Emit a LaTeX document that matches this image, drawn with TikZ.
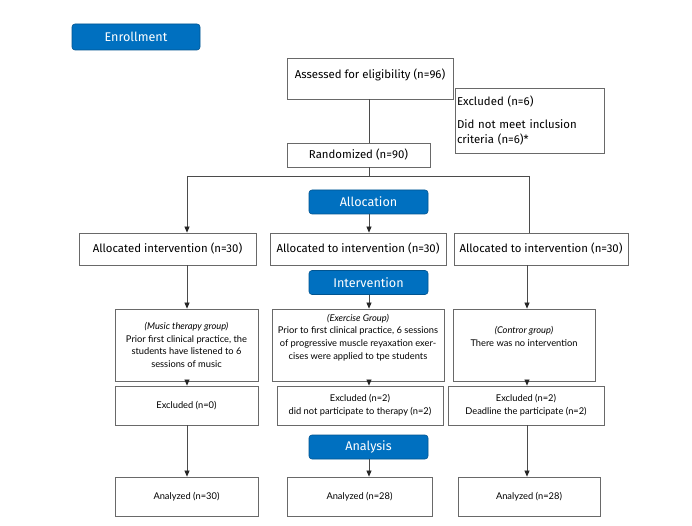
\documentclass[tikz,border=0pt]{standalone}
\usepackage{fontspec}
\setmainfont{Fira Sans}
\newfontfamily\lowf{Lato}
\usetikzlibrary{arrows.meta}
\definecolor{phaseblue}{RGB}{0,112,192}
\definecolor{boxgray}{RGB}{105,105,105}
\definecolor{linegray}{RGB}{75,75,75}
\begin{document}
\begin{tikzpicture}[x=1pt,y=-1pt,
  box/.style={draw=boxgray, line width=0.8pt, inner sep=0pt, align=center, font=\fontsize{11.4}{15}\selectfont},
  lowbox/.style={draw=boxgray, line width=0.8pt, inner sep=0pt, align=center, font=\lowf\fontsize{9.3}{12.7}\selectfont},
  phase/.style={fill=phaseblue, draw=phaseblue!75!black, line width=0.6pt, rounded corners=3pt, text=white, inner sep=0pt, font=\fontsize{12.6}{15}\selectfont},
  conn/.style={draw=linegray, line width=0.7pt},
  arr/.style={conn, -{Triangle[length=6pt,width=5pt,color=black!85]}}]
\useasboundingbox (0,0) rectangle (692,526);
\fill[white] (0,0) rectangle (692,526);
% phases
\node[phase, minimum width=128pt, minimum height=26pt] (enroll) at (136,37) {Enrollment};
\node[phase, minimum width=119pt, minimum height=24pt] (alloc) at (368.5,202) {Allocation};
\node[phase, minimum width=119pt, minimum height=24pt] (interv) at (368.5,282.5) {Intervention};
\node[phase, minimum width=119pt, minimum height=24pt] (analys) at (368.5,447) {Analysis};
% enrollment boxes
\node[box, minimum width=166pt, minimum height=41pt] (assess) at (370,78.5) {Assessed for eligibility (n=96)\\[-6pt]\mbox{}};
\node[box, minimum width=149pt, minimum height=65pt, text width=145pt, align=left] (excl) at (529.5,120.5) {Excluded (n=6)\\[8pt]Did not meet inclusion\\criteria (n=6)*};
\node[box, minimum width=143pt, minimum height=24pt] (rand) at (358.5,155) {Randomized (n=90)};
% allocated
\node[box, minimum width=177pt, minimum height=32pt] (al1) at (167.5,249) {Allocated intervention (n=30)};
\node[box, minimum width=176pt, minimum height=32pt] (al2) at (358,249) {Allocated to intervention (n=30)};
\node[box, minimum width=174pt, minimum height=32pt] (al3) at (541,249) {Allocated to intervention (n=30)};
% group descriptions
\node[lowbox, minimum width=143pt, minimum height=72pt] (g1) at (186.5,345) {\textit{(Music therapy group)}\\Prior first clinical practice, the\\students have listened to 6\\sessions of music};
\node[lowbox, minimum width=172pt, minimum height=72pt] (g2) at (358,345) {\textit{(Exercise Group)}\\Prior to first clinical practice, 6 sessions\\of progressive muscle reyaxation exer-\\cises were applied to tpe students\\[4pt]\mbox{}};
\node[lowbox, minimum width=142pt, minimum height=72pt] (g3) at (524,345) {\textit{(Contror group)}\\There was no intervention\\[4pt]\mbox{}};
% excluded
\node[lowbox, minimum width=143pt, minimum height=39pt] (ex1) at (186.5,405.5) {Excluded (n=0)};
\node[lowbox, minimum width=166pt, minimum height=39pt] (ex2) at (360,405.5) {Excluded (n=2)\\did not participate to therapy (n=2)};
\node[lowbox, minimum width=156pt, minimum height=39pt] (ex3) at (526,405.5) {Excluded (n=2)\\Deadline the participate (n=2)};
% analyzed
\node[lowbox, minimum width=143pt, minimum height=39pt] (an1) at (186.5,496.5) {Analyzed (n=30)};
\node[lowbox, minimum width=145pt, minimum height=39pt] (an2) at (359.5,496.5) {Analyzed (n=28)};
\node[lowbox, minimum width=142pt, minimum height=39pt] (an3) at (529,496.5) {Analyzed (n=28)};
% helper coordinates
\coordinate (split) at (369,176);
\coordinate (c1) at (187,176);
\coordinate (c3) at (529,176);
\coordinate (x3) at (527,0);
% connectors
\draw[conn] (assess.south -| split) -- (rand.north -| split);
\draw[conn] (rand.south -| split) -- (split);
\draw[conn] (c1) -- (c3);
\draw[arr] (c1) -- (c1 |- al1.north);
\draw[conn] (c3) -- (c3 |- al3.north);
\draw[arr] (alloc.south -| split) -- (al2.north -| split);
\draw[arr] (al1.south -| c1) -- (g1.north -| c1);
\draw[arr] (interv.south -| split) -- (g2.north -| split);
\draw[arr] (al3.south -| x3) -- (g3.north -| x3);
\draw[arr] (g1.south -| c1) -- (ex1.north -| c1);
\draw[arr] (g2.south -| split) -- (ex2.north -| split);
\draw[arr] (g3.south -| x3) -- (ex3.north -| x3);
\draw[arr] (ex1.south -| c1) -- (an1.north -| c1);
\draw[arr] (analys.south -| split) -- (an2.north -| split);
\draw[arr] (ex3.south -| x3) -- (an3.north -| x3);
\end{tikzpicture}
\end{document}
